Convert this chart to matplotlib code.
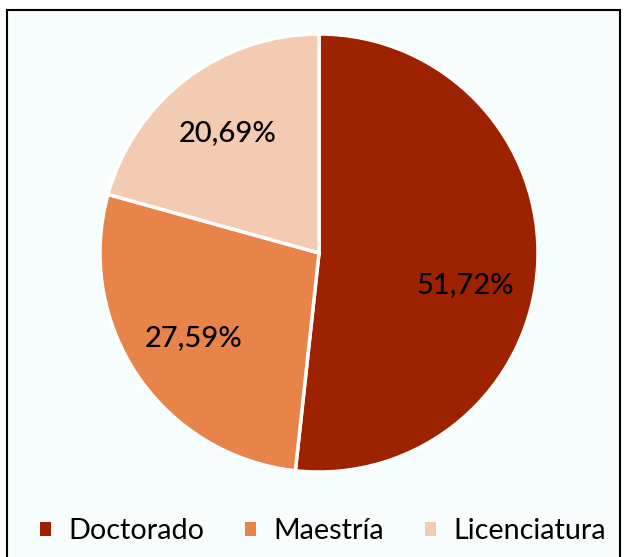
import matplotlib.pyplot as plt
from matplotlib.patches import Rectangle
import numpy as np

categories = ['Doctorado', 'Maestría', 'Licenciatura']
values = [51.72, 27.59, 20.69]
colors = ['#9C2200', '#E8834A', '#F3CBB2']

plt.rcParams['font.family'] = ['Lato', 'DejaVu Sans']

W, H = 627, 557
fig = plt.figure(figsize=(W / 100, H / 100), dpi=100)
fig.patch.set_facecolor('white')

# marco de fondo
bg = fig.add_axes([0, 0, 1, 1], zorder=0)
bg.axis('off')
bg.set_xlim(0, 1)
bg.set_ylim(0, 1)
bg.add_patch(Rectangle((7 / W, -0.01), 613 / W, 1 - 10 / H + 0.01,
                       facecolor='#F7FCFD', edgecolor='black', linewidth=1.5))

cx, cy, r = 319, 253, 219
ax = fig.add_axes([(cx - r) / W, 1 - (cy + r) / H, 2 * r / W, 2 * r / H], zorder=1)
wedges, texts, autotexts = ax.pie(
    values, colors=colors, startangle=90, counterclock=False,
    autopct=lambda p: f'{p:.2f}%'.replace('.', ','), pctdistance=0.69,
    wedgeprops=dict(edgecolor='white', linewidth=2.5),
    textprops=dict(fontsize=21, color='black', fontweight='medium'))
ax.set_xlim(-1, 1)
ax.set_ylim(-1, 1)
ax.set_aspect('equal')
ax.axis('off')

# pequeño ajuste de la etiqueta grande (Excel "mejor ajuste")
x, y = autotexts[0].get_position()
autotexts[0].set_position((x - 0.02, y - 0.11))

leg = fig.legend(wedges, categories, loc='center', bbox_to_anchor=(0.515, 1 - 531 / H),
                 ncol=3, frameon=False, fontsize=20.7, handlelength=0.38,
                 handleheight=0.38, handletextpad=0.6, columnspacing=1.43,
                 borderaxespad=0, borderpad=0)
for h in leg.legend_handles:
    h.set_edgecolor('none')

fig.savefig('out.png', dpi=100, facecolor='white')
